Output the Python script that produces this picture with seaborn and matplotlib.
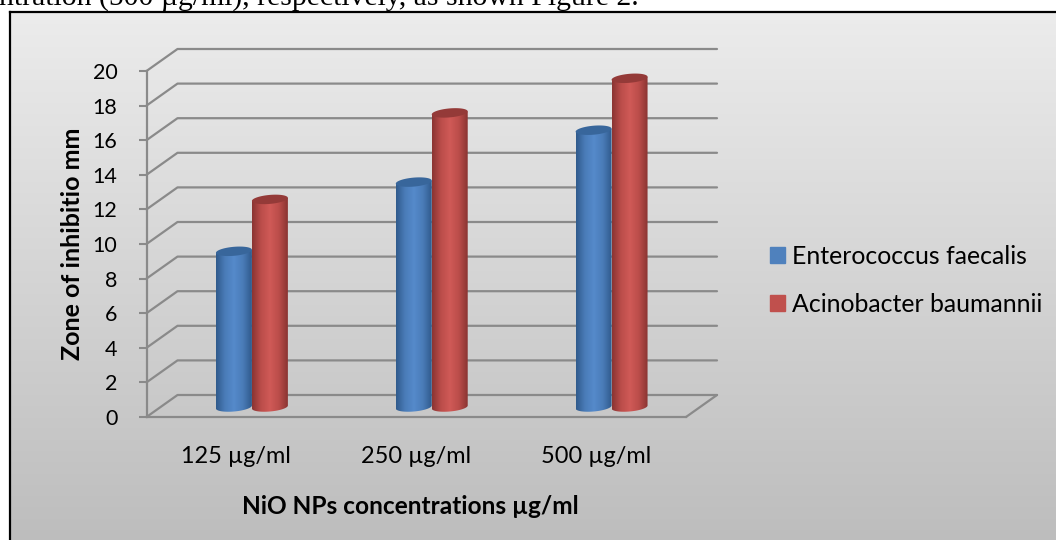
import numpy as np
import pandas as pd
import matplotlib
matplotlib.use('Agg')
import matplotlib.pyplot as plt
from matplotlib.colors import LinearSegmentedColormap
from matplotlib.patches import PathPatch, Patch
from matplotlib.path import Path
import seaborn as sns

################################# DATA ################################
concentrations = ['125 µg/ml', '250 µg/ml', '500 µg/ml']
enterococcus = [9, 13, 16]
acinobacter = [12, 17, 19]
series_names = ['Enterococcus faecalis', 'Acinobacter baumannii']
series_colors = ['#4f81bd', '#c0504d']
y_ticks = list(range(0, 21, 2))

df = pd.DataFrame({
    'conc': concentrations * 2,
    'zone': enterococcus + acinobacter,
    'species': [series_names[0]] * 3 + [series_names[1]] * 3,
})

################################# LAYOUT ################################
W, H = 1056, 540
FRONT_L, FRONT_R, FRONT_T, FRONT_B = 146.5, 686, 71, 417
DEPTH_X, DEPTH_Y = 31, 22

def px_axes(fig, left, right, top, bottom, **kw):
    return fig.add_axes([left / W, 1 - bottom / H, (right - left) / W, (bottom - top) / H], **kw)

sns.set_theme(style='white')
plt.rcParams['font.family'] = ['Lato', 'DejaVu Sans']
fig = plt.figure(figsize=(W / 100, H / 100), dpi=100, facecolor='white')

# line of the page above the chart, the chart box covers its lower part
fig.text(-1 / W, 1 - 5 / H, 'ntration (500 µg/ml), respectively, as shown Figure 2.',
         family='Liberation Serif', fontsize=21.4, color='black', va='baseline', zorder=-1)

################################# BACKGROUND ################################
bg = px_axes(fig, 10, W + 2, 12, H + 2, zorder=0)
grey = LinearSegmentedColormap.from_list('bg', ['#ececec', '#bdbdbd'])
bg.imshow(np.linspace(0, 1, 256).reshape(-1, 1), aspect='auto', cmap=grey, extent=[0, 1, 0, 1])
bg.set_xticks([])
bg.set_yticks([])
for s in bg.spines.values():
    s.set_color('black')
    s.set_linewidth(1.6)

################################# WALLS ################################
ax = px_axes(fig, FRONT_L, FRONT_R, FRONT_T, FRONT_B, zorder=1)
ax.patch.set_alpha(0)
ax.set_xlim(-0.5, 2.5)
ax.set_ylim(0, 20)
grid_c = '#8a8a8a'
dx = DEPTH_X * 3 / (FRONT_R - FRONT_L)
dy = DEPTH_Y * 20 / (FRONT_B - FRONT_T)
for t in y_ticks:
    ax.plot([-0.5, -0.5 + dx, 2.5 + dx], [t, t + dy, t + dy], color=grid_c, lw=1.6, clip_on=False)
ax.plot([2.5, 2.5 + dx], [0, dy], color=grid_c, lw=1.6, clip_on=False)
sns.despine(ax=ax)
for side in ['left', 'bottom']:
    ax.spines[side].set_color(grid_c)
    ax.spines[side].set_linewidth(1.6)
ax.set_xticks(range(3))
ax.set_xticklabels(concentrations, fontsize=16.9, color='black')
ax.set_yticks(y_ticks)
ax.set_yticklabels(y_ticks, fontsize=15.5, color='black')
ax.tick_params(axis='y', length=6, width=1.5, color=grid_c, left=True, pad=15)
ax.tick_params(axis='x', length=0, pad=21)
ax.set_xlabel('NiO NPs concentrations µg/ml', fontsize=17.6, fontweight='bold', color='black', labelpad=20)
ax.xaxis.label.set_x(0.489)
ax.set_ylabel('Zone of inhibitio mm', fontsize=18, fontweight='bold', color='black', labelpad=6)

################################# CYLINDERS ################################
# same scale as the walls, moved to the middle of the depth
bars = px_axes(fig, FRONT_L + DEPTH_X / 2, FRONT_R + DEPTH_X / 2,
               FRONT_T - 10, FRONT_B - 10, zorder=2)
bars.patch.set_alpha(0)
sns.barplot(data=df, x='conc', y='zone', hue='species', order=concentrations,
            hue_order=series_names, palette=series_colors, width=0.4, gap=0,
            saturation=1, legend=False, ax=bars)
bars.set_ylim(0, 20)
bars.set_xlim(-0.5, 2.5)
bars.set_axis_off()

shades = {
    series_colors[0]: (['#2f5a8c', '#4a7cb8', '#558acb', '#4a7cb8', '#2f5a8c'], '#38669b'),
    series_colors[1]: (['#8a3432', '#bb4d4a', '#d05a57', '#bb4d4a', '#8a3432'], '#943a38'),
}
ry = 4.5 * 20 / (FRONT_B - FRONT_T)
slope = 0.87
for patch in list(bars.patches):
    x0, w, top = patch.get_x(), patch.get_width(), patch.get_height()
    colors, top_c = shades[matplotlib.colors.to_hex(patch.get_facecolor())]
    patch.set_visible(False)
    xc, rx = x0 + w / 2, w / 2
    th = np.linspace(np.pi, 2 * np.pi, 40)
    low_x = xc + rx * np.cos(th)
    low_y = ry * np.sin(th) + slope * (low_x - xc)
    up_x = low_x[::-1]
    up_y = top + slope * (up_x - xc)
    body = np.vstack([np.column_stack([low_x, low_y]), np.column_stack([up_x, up_y])])
    im = bars.imshow(np.linspace(0, 1, 128).reshape(1, -1), aspect='auto',
                     cmap=LinearSegmentedColormap.from_list('c', colors),
                     extent=[x0, x0 + w, -1, top + 1], zorder=3)
    clip = PathPatch(Path(body), transform=bars.transData, fc='none', ec='none')
    bars.add_patch(clip)
    im.set_clip_path(clip)
    im.set_clip_box(fig.bbox)
    th2 = np.linspace(0, 2 * np.pi, 60)
    cap_x = xc + rx * np.cos(th2)
    cap_y = top + ry * np.sin(th2) + slope * (cap_x - xc)
    bars.fill(cap_x, cap_y, color=top_c, lw=0, zorder=4, clip_on=False)
bars.set_ylim(0, 20)
bars.set_xlim(-0.5, 2.5)

################################# LEGEND ################################
handles = [Patch(color=c) for c in series_colors]
fig.legend(handles, series_names, loc='upper left', bbox_to_anchor=(770 / W, 1 - 245 / H),
           frameon=False, fontsize=17.9, handlelength=0.6, handleheight=0.6,
           handletextpad=0.3, labelspacing=1.0, borderpad=0, borderaxespad=0,
           labelcolor='black')

fig.savefig('out.png', dpi=100)
